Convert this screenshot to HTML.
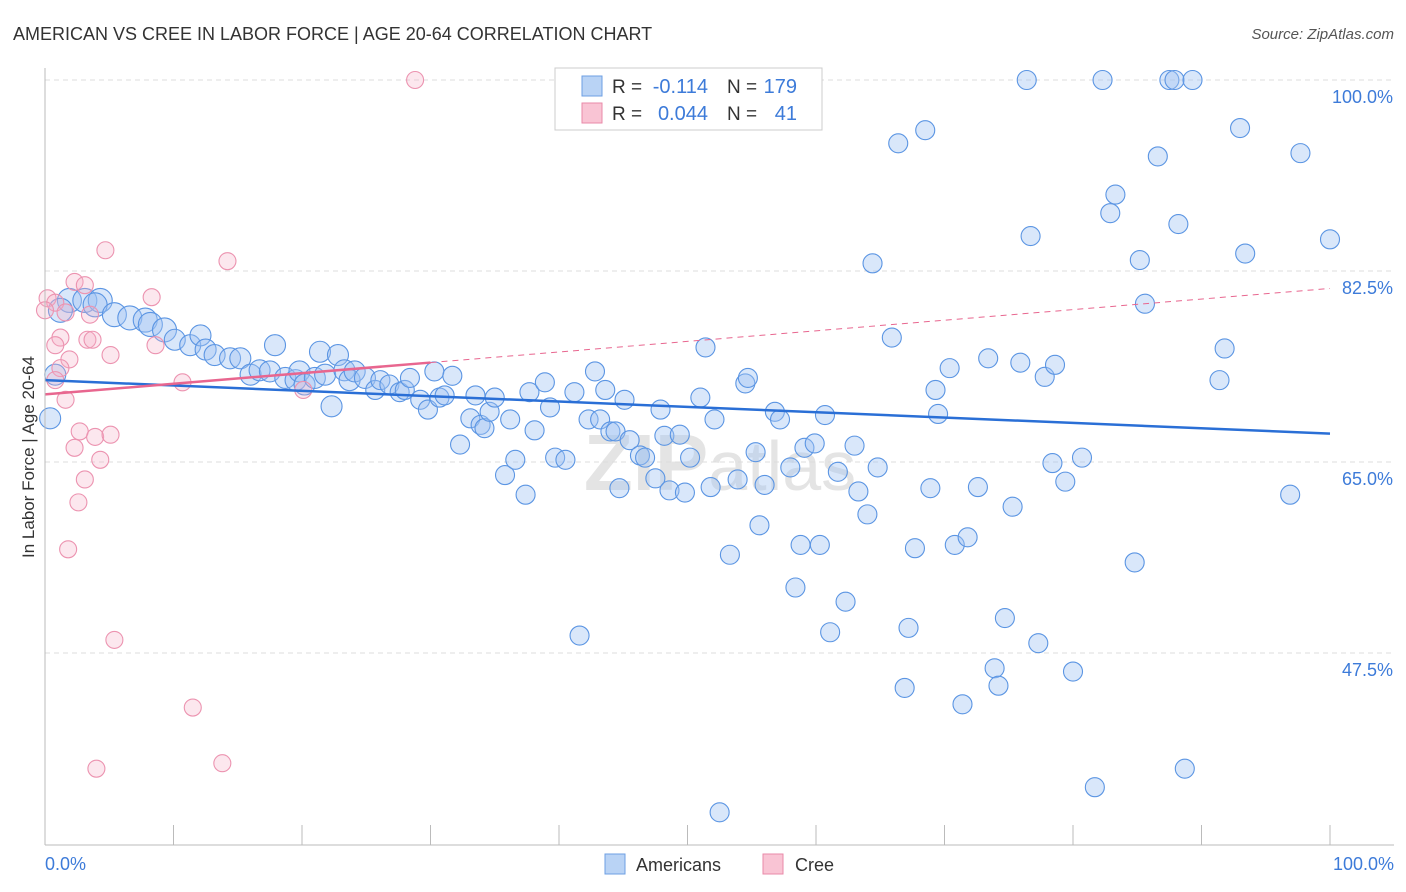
<!DOCTYPE html>
<html><head><meta charset="utf-8"><style>
body{margin:0;background:#fff;font-family:"Liberation Sans",sans-serif;}
#wrap{position:relative;width:1406px;height:892px;overflow:hidden;}
</style></head><body><div id="wrap">
<svg id="svg" width="1406" height="892" xmlns="http://www.w3.org/2000/svg">
<text x="13" y="40" font-size="18" fill="#333">AMERICAN VS CREE IN LABOR FORCE | AGE 20-64 CORRELATION CHART</text>
<text x="1394" y="39" font-size="15" fill="#555" font-style="italic" text-anchor="end">Source: ZipAtlas.com</text>
<text x="720" y="490" font-size="80" fill="#e4e4e4" text-anchor="middle" font-weight="bold">ZIP<tspan font-weight="normal" font-size="70">atlas</tspan></text>
<text transform="translate(34,457) rotate(-90)" font-size="17" fill="#333" text-anchor="middle">In Labor Force | Age 20-64</text>
<g id="grid"></g><g id="pts"></g><g id="trend"></g>
<line x1="45" y1="68" x2="45" y2="845" stroke="#bbb"/>
<line x1="45" y1="845" x2="1394" y2="845" stroke="#bbb"/>
<text x="45" y="870" font-size="18" fill="#3d7bd9">0.0%</text>
<text x="1394" y="870" font-size="18" fill="#3d7bd9" text-anchor="end">100.0%</text>
<g>
<rect x="555" y="68" width="267" height="62" fill="#fff" stroke="#ccc"/>
<rect x="582" y="76" width="20" height="20" fill="#b9d3f5" stroke="#6d9fe3"/>
<rect x="582" y="103" width="20" height="20" fill="#f9c4d4" stroke="#e98aa8"/>
<text x="612" y="93" font-size="19" fill="#333">R =</text>
<text x="708" y="93" font-size="20" fill="#3d7bd9" text-anchor="end">-0.114</text>
<text x="727" y="93" font-size="19" fill="#333">N =</text>
<text x="797" y="93" font-size="20" fill="#3d7bd9" text-anchor="end">179</text>
<text x="612" y="120" font-size="19" fill="#333">R =</text>
<text x="708" y="120" font-size="20" fill="#3d7bd9" text-anchor="end">0.044</text>
<text x="727" y="120" font-size="19" fill="#333">N =</text>
<text x="797" y="120" font-size="20" fill="#3d7bd9" text-anchor="end">41</text>
</g>
<g>
<rect x="605" y="854" width="20" height="20" fill="#b9d3f5" stroke="#6d9fe3"/>
<text x="636" y="871" font-size="18" fill="#333">Americans</text>
<rect x="763" y="854" width="20" height="20" fill="#f9c4d4" stroke="#e98aa8"/>
<text x="795" y="871" font-size="18" fill="#333">Cree</text>
</g>
</svg></div>
<script>
const yTicks=[100,82.5,65,47.5];
const yTickLabels=["100.0%","82.5%","65.0%","47.5%"];
const xTicks=[0,10,20,30,40,50,60,70,80,90,100];
const blueX=[1.9,3.1,4.3,3.9,1.2,5.4,6.6,7.8,8.2,9.3,10.1,11.3,12.1,12.5,13.2,14.4,15.2,16.0,16.7,17.5,17.9,18.7,19.5,19.8,20.2,21.0,21.4,21.8,22.3,22.8,23.3,23.7,24.1,24.9,25.7,26.1,26.8,27.6,28.0,28.4,29.2,29.8,30.3,30.7,31.1,31.7,32.3,33.1,33.5,33.9,34.2,34.6,35.0,35.8,36.2,36.6,37.4,37.7,38.1,38.9,39.3,39.7,40.5,41.2,41.6,42.3,42.8,43.2,43.6,44.0,44.4,44.7,45.1,45.5,46.3,46.7,47.5,47.9,48.2,48.6,49.4,49.8,50.2,51.0,51.4,51.8,52.1,53.3,53.9,54.5,54.7,55.3,55.6,56.0,56.8,57.2,58.0,58.4,58.8,59.1,59.9,60.3,60.7,61.1,61.7,62.3,63.0,63.3,64.0,64.4,64.8,65.9,66.4,66.9,67.2,67.7,68.5,68.9,69.3,69.5,70.4,70.8,71.4,71.8,72.6,73.4,73.9,74.2,74.7,75.3,75.9,76.4,76.7,77.3,77.8,78.4,78.6,79.4,80.0,80.7,81.7,82.3,82.9,83.3,84.8,85.2,85.6,86.6,87.5,87.9,88.2,88.7,89.3,91.4,91.8,93.0,93.4,96.9,97.7,100,52.5,0.4,0.8];
const blueY=[79.8,79.8,79.8,79.4,78.9,78.5,78.2,78.0,77.6,77.1,76.2,75.7,76.6,75.3,74.8,74.5,74.5,73.0,73.4,73.3,75.7,72.7,72.5,73.3,72.1,72.7,75.1,73.0,70.1,74.8,73.4,72.5,73.3,72.7,71.6,72.5,72.1,71.4,71.6,72.7,70.7,69.8,73.3,70.9,71.1,72.9,66.6,69.0,71.1,68.4,68.1,69.6,70.9,63.8,68.9,65.2,62.0,71.4,67.9,72.3,70.0,65.4,65.2,71.4,49.1,68.9,73.3,68.9,71.6,67.8,67.8,62.6,70.7,67.0,65.6,65.4,63.5,69.8,67.4,62.4,67.5,62.2,65.4,70.9,75.5,62.7,68.9,56.5,63.4,72.2,72.7,65.9,59.2,62.9,69.6,68.9,64.5,53.5,57.4,66.3,66.7,57.4,69.3,49.4,64.1,52.2,66.5,62.3,60.2,83.2,64.5,76.4,94.2,44.3,49.8,57.1,95.4,62.6,71.6,69.4,73.6,57.4,42.8,58.1,62.7,74.5,46.1,44.5,50.7,60.9,74.1,100,85.7,48.4,72.8,64.9,73.9,63.2,45.8,65.4,35.2,100,87.8,89.5,55.8,83.5,79.5,93.0,100,100,86.8,36.9,100,72.5,75.4,95.6,84.1,62.0,93.3,85.4,32.9,69.0,73.0];
const pinkX=[28.8,4.7,14.2,2.3,3.1,8.3,0.2,0.8,0,1.6,3.5,3.3,3.7,1.2,0.8,5.1,1.9,1.2,8.6,10.7,0.8,1.6,2.7,3.9,5.1,2.3,4.3,3.1,2.6,1.8,5.4,11.5,4.0,13.8,20.1];
const pinkY=[100,84.4,83.4,81.5,81.2,80.1,80.0,79.6,78.9,78.7,78.5,76.2,76.2,76.4,75.7,74.8,74.4,73.6,75.7,72.3,72.5,70.7,67.8,67.3,67.5,66.3,65.2,63.4,61.3,57.0,48.7,42.5,36.9,37.4,71.6];
const blueTrend=[72.5,67.6];
const pinkTrend=[71.2,80.9];
const X=v=>45+v*12.85, Y=v=>80+(100-v)*10.914;
const NS="http://www.w3.org/2000/svg";
function mk(t,a,p){const e=document.createElementNS(NS,t);for(const k in a)e.setAttribute(k,a[k]);p.appendChild(e);return e;}
const grid=document.getElementById('grid'),pts=document.getElementById('pts'),tr=document.getElementById('trend'),svg=document.getElementById('svg');
yTicks.forEach((v,i)=>{
 const l=mk('line',{x1:45,x2:1394,y1:Y(v),y2:Y(v),stroke:'#ddd','stroke-dasharray':'5,4'},grid);
 
 
 const t=mk('text',{x:1393,y:Y(v)+23,'font-size':18,fill:'#3d7bd9','text-anchor':'end'},svg);
 t.textContent=yTickLabels[i];
 
 
});
xTicks.forEach(v=>{
 const l=mk('line',{x1:X(v),x2:X(v),y1:825,y2:845,stroke:'#bbb'},grid);
 
 
});
blueX.forEach((x,i)=>{
 const r=x<10&&blueY[i]>76?12:(x<25?10.5:9.5);
 const c=mk('circle',{cx:X(x),cy:Y(blueY[i]),r:r,fill:'rgba(160,196,242,0.4)',stroke:'#5b95e3','stroke-width':1.1},pts);
 
 
});
pinkX.forEach((x,i)=>{
 const c=mk('circle',{cx:X(x),cy:Y(pinkY[i]),r:8.5,fill:'rgba(245,175,198,0.3)',stroke:'#ec93b0','stroke-width':1.1},pts);
 
 
});
const bl=mk('line',{x1:X(0),y1:Y(blueTrend[0]),x2:X(100),y2:Y(blueTrend[1]),stroke:'#2a6fd6','stroke-width':2.5},tr);


const pAt=v=>pinkTrend[0]+(pinkTrend[1]-pinkTrend[0])*v/100;
const ps=mk('line',{x1:X(0),y1:Y(pAt(0)),x2:X(30),y2:Y(pAt(30)),stroke:'#e8668f','stroke-width':2.5},tr);


const pd=mk('line',{x1:X(30),y1:Y(pAt(30)),x2:X(100),y2:Y(pAt(100)),stroke:'#e8668f','stroke-width':1,'stroke-dasharray':'6,5'},tr);


</script></body></html>
